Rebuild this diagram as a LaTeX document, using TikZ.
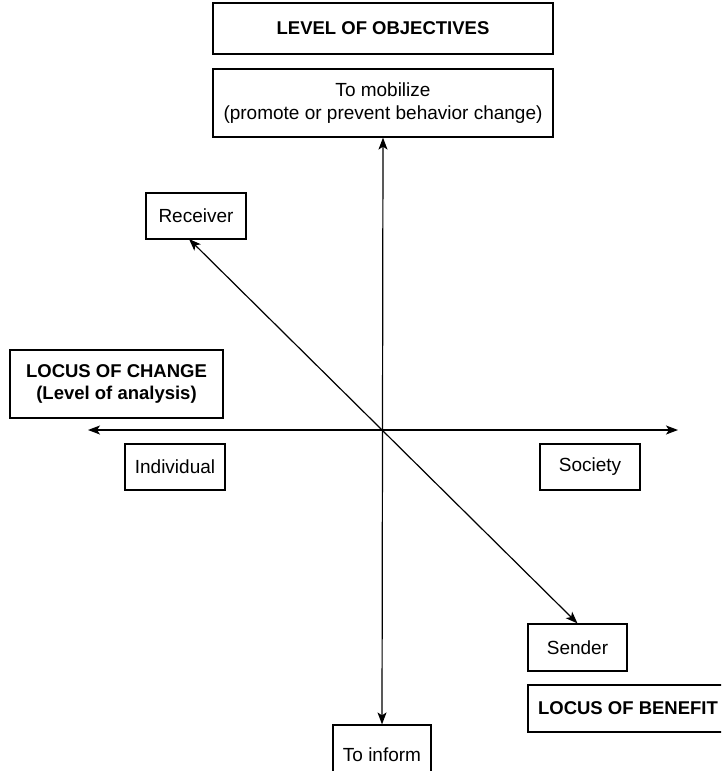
\documentclass[tikz,border=0pt]{standalone}
\usepackage{fontspec}
\setmainfont{Liberation Sans}
\usetikzlibrary{arrows.meta}
\tikzset{
  box/.style={draw, line width=1.2pt, inner sep=0pt, align=center, font=\fontsize{19}{23}\selectfont},
  boldbox/.style={box, font=\fontsize{18.5}{22}\selectfont\bfseries},
  axis/.style={line width=1.2pt, {Stealth[length=12pt,width=9pt,inset=3pt]}-{Stealth[length=12pt,width=9pt,inset=3pt]}}
}
\begin{document}
\begin{tikzpicture}[x=1pt,y=-1pt]
\useasboundingbox (0,0) rectangle (721,771);
\clip (0,0) rectangle (721,771);
% boxes
\node[boldbox, minimum width=340pt, minimum height=51pt] (objectives) at (383,28.5) {LEVEL OF OBJECTIVES};
\node[box, minimum width=340pt, minimum height=68pt] (mobilize) at (383,103) {To mobilize\\(promote or prevent behavior change)};
\node[box, minimum width=100pt, minimum height=46pt] (receiver) at (196,216) {Receiver};
\node[boldbox, minimum width=213pt, minimum height=68pt] (changebox) at (116.5,384) {LOCUS OF CHANGE\\(Level of analysis)};
\node[box, minimum width=100pt, minimum height=46pt] (individual) at (175,467) {Individual};
\node[box, minimum width=100pt, minimum height=46pt] (society) at (590,467) {Society};
\node[box, minimum width=99pt, minimum height=47pt] (sender) at (577.5,647.5) {Sender};
\node[boldbox, minimum width=200pt, minimum height=47pt] (benefit) at (628,708.5) {LOCUS OF BENEFIT};
\node[box, minimum width=98pt, minimum height=60pt] (inform) at (382,755) {To inform};
% axes
\coordinate (west) at (88,430);
\coordinate (east) at (678,430);
\coordinate (rtip) at (189,239);
\draw[axis] (mobilize.south) -- (inform.north);
\draw[axis] (west) -- (east);
\draw[axis] (rtip) -- (sender.north);
\end{tikzpicture}
\end{document}
